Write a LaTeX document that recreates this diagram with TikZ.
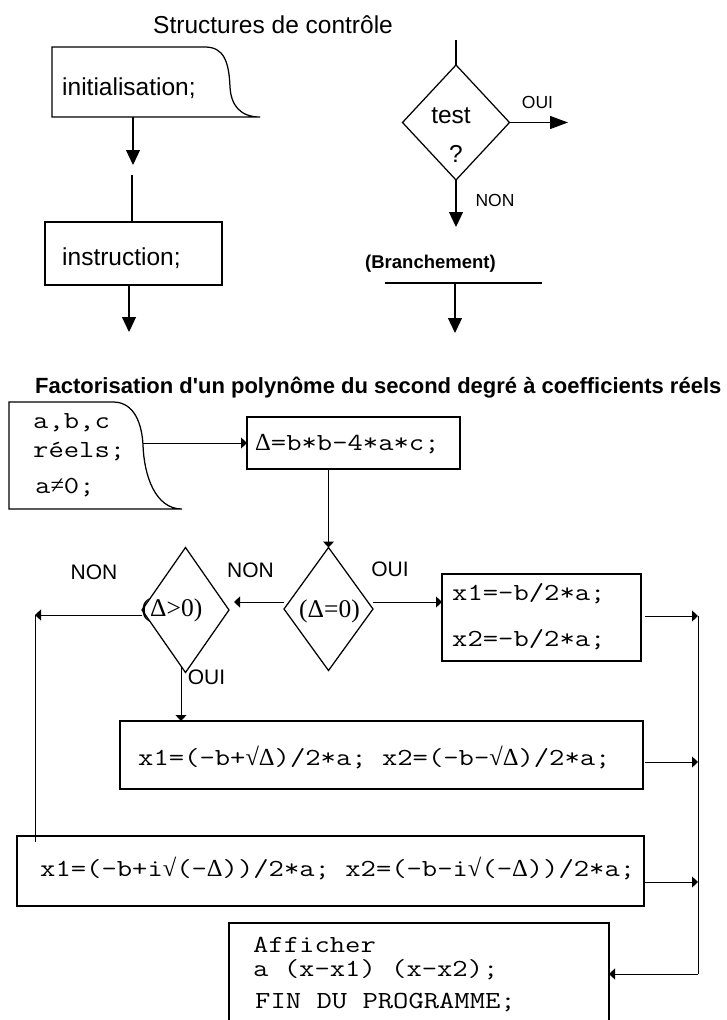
\documentclass[tikz,border=0pt]{standalone}
\usepackage{fontspec}
\setmainfont{Liberation Sans}
\newfontfamily\titlesans[Ligatures=TeXOff]{Liberation Sans}
\newfontfamily\monof[FakeStretch=1.215]{Latin Modern Mono}
\newfontfamily\seriff{Liberation Serif}
\usetikzlibrary{arrows.meta,shapes.geometric,calc}
\newcommand\symb[1]{{\seriff #1}}
\begin{document}
\begin{tikzpicture}[x=1pt,y=-1pt,
  heavy/.style={line width=1.25pt},
  bigarrow/.style={heavy,-{Triangle[length=15pt,width=14pt]}},
  light/.style={line width=1pt},
  smallarrow/.style={light,-{Triangle[length=6pt,width=11pt]}},
  boxed/.style={draw,line width=1.25pt,inner sep=0pt,outer sep=0pt},
  frame/.style={inner sep=0pt,outer sep=0pt},
  choice/.style={diamond,draw,line width=1.25pt,inner sep=0pt,outer sep=0pt},
  bigsans/.style={inner sep=0pt,font=\fontsize{24.5}{28}\selectfont},
  lblsmall/.style={inner sep=0pt,font=\fontsize{17.5}{20}\selectfont},
  lbl/.style={inner sep=0pt,font=\fontsize{21}{24}\selectfont},
  code/.style={inner sep=0pt,font=\monof\fontsize{24.5}{30}\selectfont},
  cond/.style={inner sep=0pt,font=\seriff\fontsize{25.5}{30}\selectfont}
]
\useasboundingbox (0,0) rectangle (727,1020);

% ---------- Structures de contrôle ----------
\node[bigsans,anchor=base west] (t1) at (153,33) {Structures de contrôle};

% initialisation block (rounded lower-right corner)
\node[frame,minimum width=208pt,minimum height=70pt,anchor=north west] (init) at (52,47) {};
\draw[heavy] (init.south west) -- (init.north west) -- ($(init.north west)+(153,0)$)
  .. controls ($(init.north west)+(172,0)$) and ($(init.north west)+(177,15)$) .. ($(init.north west)+(178,40)$)
  .. controls ($(init.north west)+(179,58)$) and ($(init.north west)+(188,70)$) .. (init.south east) -- cycle;
\node[bigsans,anchor=base west] (initTxt) at (62,95) {initialisation;};
\coordinate (initOut) at (133,117);
\coordinate (initEnd) at (133,165);
\draw[bigarrow] (initOut) -- (initEnd);

% instruction block
\node[boxed,minimum width=177pt,minimum height=63pt] (instr) at (133.5,253.5) {};
\node[bigsans,anchor=base west] (instrTxt) at (62,265) {instruction;};
\coordinate (instrIn) at (132,175);
\draw[heavy] (instrIn) -- (instrIn |- instr.north);
\coordinate (instrOut) at (129,285);
\coordinate (instrEnd) at (129,332);
\draw[bigarrow] (instrOut) -- (instrEnd);

% test
\node[choice,minimum width=107pt,minimum height=115pt] (dtest) at (456,122.5) {};
\node[bigsans,anchor=base] (testTxt) at (451,123) {test};
\node[bigsans,anchor=base] (testQ) at (456,162) {?};
\coordinate (testIn) at (456,40);
\draw[heavy] (testIn) -- (dtest.north);
\coordinate (testYes) at (568,122.5);
\draw[heavy,-{Triangle[length=18pt,width=13pt]}] (dtest.east) -- (testYes);
\coordinate (testNo) at (456,227);
\draw[bigarrow] (dtest.south) -- (testNo);
\node[lblsmall] (ouiT) at (537.5,102.5) {OUI};
\node[lblsmall] (nonT) at (495,200) {NON};

% branchement
\node[inner sep=0pt,font=\bfseries\fontsize{18.5}{22}\selectfont,anchor=base west] (brTxt) at (365,268) {(Branchement)};
\coordinate (brL) at (385,283);
\coordinate (brR) at (542,283);
\draw[heavy] (brL) -- (brR);
\coordinate (brMid) at (455,283);
\coordinate (brEnd) at (455,333);
\draw[bigarrow] (brMid) -- (brEnd);

% ---------- Factorisation ----------
\node[inner sep=0pt,font=\titlesans\bfseries\fontsize{22}{26}\selectfont,anchor=base west] (t2) at (35,393)
  {Factorisation d'un polynôme du second degré à coefficients réels};

% input block
\node[frame,minimum width=173pt,minimum height=107pt,anchor=north west] (inp) at (9,402) {};
\draw[heavy] (inp.south west) -- (inp.north west) -- ($(inp.north west)+(104,0)$)
  .. controls ($(inp.north west)+(126,0)$) and ($(inp.north west)+(133,23)$) .. ($(inp.north west)+(134,43)$)
  .. controls ($(inp.north west)+(135,73)$) and ($(inp.north west)+(146,107)$) .. (inp.south east) -- cycle;
\node[code,anchor=base west] (inp1) at (33,428) {a,b,c};
\node[code,anchor=base west] (inp2) at (33,457) {réels;};
\node[code,anchor=base west] (inp3) at (35,493) {a\symb{≠}0;};
\coordinate (inpOut) at (142.5,443);

% discriminant
\node[boxed,minimum width=213pt,minimum height=52pt] (delta) at (353.5,443) {};
\node[code,anchor=base west] (deltaTxt) at (255,450) {\symb{Δ}=b*b-4*a*c;};
\draw[smallarrow] (inpOut) -- (inpOut -| delta.west);

% tests
\node[choice,minimum width=89pt,minimum height=123pt] (d0) at (328.5,609) {};
\node[cond] (d0Txt) at (329.5,611) {(Δ=0)};
\node[choice,minimum width=87pt,minimum height=125pt] (dp) at (185.5,610) {};
\node[cond] (dpTxt) at (172,610) {(Δ>0)};
\draw[smallarrow] (d0.north |- delta.south) -- (d0.north);

\node[lbl] (non1) at (94,572) {NON};
\node[lbl] (non2) at (250.5,570) {NON};
\node[lbl] (oui1) at (390,569) {OUI};
\node[lbl] (oui2) at (206.5,677) {OUI};

% result blocks
\node[boxed,minimum width=199pt,minimum height=87pt] (box1) at (541.5,617.5) {};
\node[code,anchor=base west] (box1a) at (452,600) {x1=-b/2*a;};
\node[code,anchor=base west] (box1b) at (452,646) {x2=-b/2*a;};

\node[boxed,minimum width=523pt,minimum height=68pt] (box2) at (381.5,755) {};
\node[code,anchor=base west] (box2Txt) at (138,765)
  {x1=(-b+\symb{√Δ})/2*a; x2=(-b-\symb{√Δ})/2*a;};

\node[boxed,minimum width=627pt,minimum height=70pt] (box3) at (330.5,871) {};
\node[code,anchor=base west] (box3Txt) at (40,876)
  {x1=(-b+i\symb{√}(-\symb{Δ}))/2*a; x2=(-b-i\symb{√}(-\symb{Δ}))/2*a;};

\node[frame,minimum width=380pt,minimum height=100pt,anchor=north west] (fin) at (229,923) {};
\draw[heavy] ($(fin.south west)+(0,2)$) -- (fin.north west) -- (fin.north east) -- ($(fin.south east)+(0,2)$);
\node[code,anchor=base west] (fin1) at (253,952) {Afficher};
\node[code,anchor=base west] (fin2) at (253,976) {a (x-x1) (x-x2);};
\node[code,anchor=base west] (fin3) at (255,1008) {FIN DU PROGRAMME;};

% connectors between tests and blocks
\coordinate (d0L) at ($(d0.west)+(0,-7)$);
\draw[smallarrow] (d0L) -- ($(d0L -| dp.east)+(5,0)$);
\coordinate (d0R) at ($(d0.east)+(0,-7)$);
\draw[smallarrow] (d0R) -- (d0R -| box1.west);
\coordinate (dpL) at ($(dp.west)+(0,5)$);
\coordinate (railL) at (35,615);
\draw[smallarrow] (dpL) -- (railL);
\draw[light] (railL) -- ($(railL |- box3.north)+(0,6)$);
\coordinate (dpOut) at (181,667);
\draw[smallarrow] (dpOut) -- (dpOut |- box2.north);

% right-hand rail to the final block
\coordinate (railTop) at (698,616);
\coordinate (railBot) at (698,974);
\draw[smallarrow] ($(box1.east)+(4,-1.5)$) -- (railTop);
\coordinate (b2Out) at (645,762);
\draw[smallarrow] (b2Out) -- (b2Out -| railTop);
\coordinate (b3Out) at (645,882);
\draw[smallarrow] (b3Out) -- (b3Out -| railTop);
\draw[light] (railTop) -- (railBot);
\draw[smallarrow] (railBot) -- (railBot -| fin.east);
\end{tikzpicture}
\end{document}
